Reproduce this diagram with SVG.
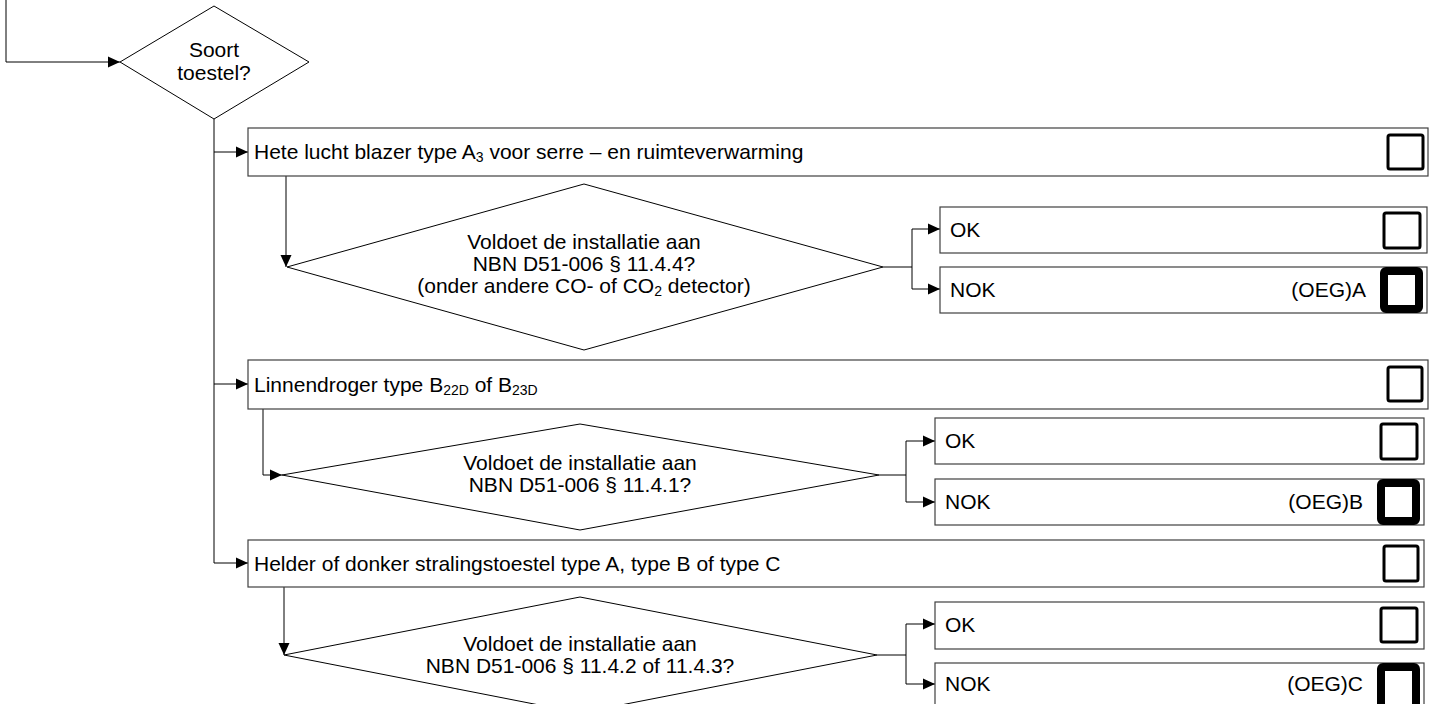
<svg xmlns="http://www.w3.org/2000/svg" width="1438" height="704" viewBox="0 0 1438 704">
  <style>
    .shape { fill: #ffffff; stroke: #000000; stroke-width: 1; }
    .box { fill: #ffffff; stroke: #404040; stroke-width: 1.2; }
    .chk { fill: none; stroke: #000000; stroke-width: 3; }
    .chk-bold { fill: none; stroke: #000000; stroke-width: 8; }
    .wire { fill: none; stroke: #000000; stroke-width: 1; }
    text { font-family: "Liberation Sans", Arial, sans-serif; font-size: 21px; fill: #000000; }
    .mid { text-anchor: middle; }
    .end { text-anchor: end; }
    .sub { font-size: 14px; }
  </style>
  <defs>
    <marker id="arrow" markerWidth="12" markerHeight="12" refX="12" refY="6" orient="auto" markerUnits="userSpaceOnUse">
      <path d="M0,0.5 L12,6 L0,11.5 Z" fill="#000000"/>
    </marker>
  </defs>

  <!-- connectors -->
  <g id="connectors">
    <path class="wire" d="M6,0 V62 H120" marker-end="url(#arrow)"/>
    <path class="wire" d="M214,119 V563"/>
    <path class="wire" d="M214,152 H248" marker-end="url(#arrow)"/>
    <path class="wire" d="M214,384 H248" marker-end="url(#arrow)"/>
    <path class="wire" d="M214,563 H248" marker-end="url(#arrow)"/>

    <path class="wire" d="M286,176 V267" marker-end="url(#arrow)"/>
    <path class="wire" d="M883,267 H912 M912,229 V289"/>
    <path class="wire" d="M912,229 H940" marker-end="url(#arrow)"/>
    <path class="wire" d="M912,289 H940" marker-end="url(#arrow)"/>

    <path class="wire" d="M263,409 V475 H282" marker-end="url(#arrow)"/>
    <path class="wire" d="M879,475 H906 M906,441 V502"/>
    <path class="wire" d="M906,441 H935" marker-end="url(#arrow)"/>
    <path class="wire" d="M906,502 H935" marker-end="url(#arrow)"/>

    <path class="wire" d="M284,587 V655" marker-end="url(#arrow)"/>
    <path class="wire" d="M877,655 H906 M906,624 V684"/>
    <path class="wire" d="M906,624 H935" marker-end="url(#arrow)"/>
    <path class="wire" d="M906,684 H935" marker-end="url(#arrow)"/>
  </g>

  <!-- main decision -->
  <g id="soort-toestel">
    <polygon class="shape" points="120,62 214,6 309,62 214,119"/>
    <text class="mid" x="214" y="57">Soort</text>
    <text class="mid" x="214" y="80">toestel?</text>
  </g>

  <!-- hot air blower branch -->
  <g id="hete-lucht">
    <rect class="box" x="248" y="128" width="1180" height="48"/>
    <text x="254" y="159">Hete lucht blazer type A<tspan class="sub" dy="3">3</tspan><tspan dy="-3"> voor serre – en ruimteverwarming</tspan></text>
    <rect class="chk" x="1388" y="135" width="35" height="34" rx="2"/>
  </g>
  <g id="vraag-a">
    <polygon class="shape" points="287,267 584,184 883,267 584,350"/>
    <text class="mid" x="584" y="249">Voldoet de installatie aan</text>
    <text class="mid" x="584" y="271">NBN D51-006 § 11.4.4?</text>
    <text class="mid" x="584" y="293">(onder andere CO- of CO<tspan class="sub" dy="3">2</tspan><tspan dy="-3"> detector)</tspan></text>
  </g>
  <g id="ok-a">
    <rect class="box" x="940" y="207" width="487" height="46"/>
    <text x="950" y="237">OK</text>
    <rect class="chk" x="1384" y="213" width="36" height="35" rx="2"/>
  </g>
  <g id="nok-a">
    <rect class="box" x="940" y="267" width="487" height="46"/>
    <text x="950" y="297">NOK</text>
    <text class="end" x="1366" y="297">(OEG)A</text>
    <rect class="chk-bold" x="1384" y="271" width="35" height="38" rx="2"/>
  </g>

  <!-- laundry dryer branch -->
  <g id="linnendroger">
    <rect class="box" x="248" y="360" width="1180" height="49"/>
    <text x="254" y="392">Linnendroger type B<tspan class="sub" dy="3">22D</tspan><tspan dy="-3"> of B</tspan><tspan class="sub" dy="3">23D</tspan></text>
    <rect class="chk" x="1388" y="367" width="34" height="34" rx="2"/>
  </g>
  <g id="vraag-b">
    <polygon class="shape" points="282,475 580,424 879,475 580,530"/>
    <text class="mid" x="580" y="470">Voldoet de installatie aan</text>
    <text class="mid" x="580" y="492">NBN D51-006 § 11.4.1?</text>
  </g>
  <g id="ok-b">
    <rect class="box" x="935" y="418" width="489" height="46"/>
    <text x="945" y="448">OK</text>
    <rect class="chk" x="1381" y="424" width="36" height="35" rx="2"/>
  </g>
  <g id="nok-b">
    <rect class="box" x="935" y="479" width="489" height="46"/>
    <text x="945" y="509">NOK</text>
    <text class="end" x="1363" y="509">(OEG)B</text>
    <rect class="chk-bold" x="1381" y="483" width="35" height="38" rx="2"/>
  </g>

  <!-- radiant heater branch -->
  <g id="stralingstoestel">
    <rect class="box" x="248" y="540" width="1176" height="47"/>
    <text x="254" y="571">Helder of donker stralingstoestel type A, type B of type C</text>
    <rect class="chk" x="1384" y="546" width="34" height="35" rx="2"/>
  </g>
  <g id="vraag-c">
    <polygon class="shape" points="284,655 580,597 877,655 580,713"/>
    <text class="mid" x="580" y="651">Voldoet de installatie aan</text>
    <text class="mid" x="580" y="673">NBN D51-006 § 11.4.2 of 11.4.3?</text>
  </g>
  <g id="ok-c">
    <rect class="box" x="935" y="602" width="489" height="47"/>
    <text x="945" y="632">OK</text>
    <rect class="chk" x="1381" y="608" width="36" height="34" rx="2"/>
  </g>
  <g id="nok-c">
    <rect class="box" x="935" y="663" width="489" height="50"/>
    <text x="945" y="691">NOK</text>
    <text class="end" x="1363" y="691">(OEG)C</text>
    <rect class="chk-bold" x="1381" y="667" width="35" height="42" rx="2"/>
  </g>
</svg>
